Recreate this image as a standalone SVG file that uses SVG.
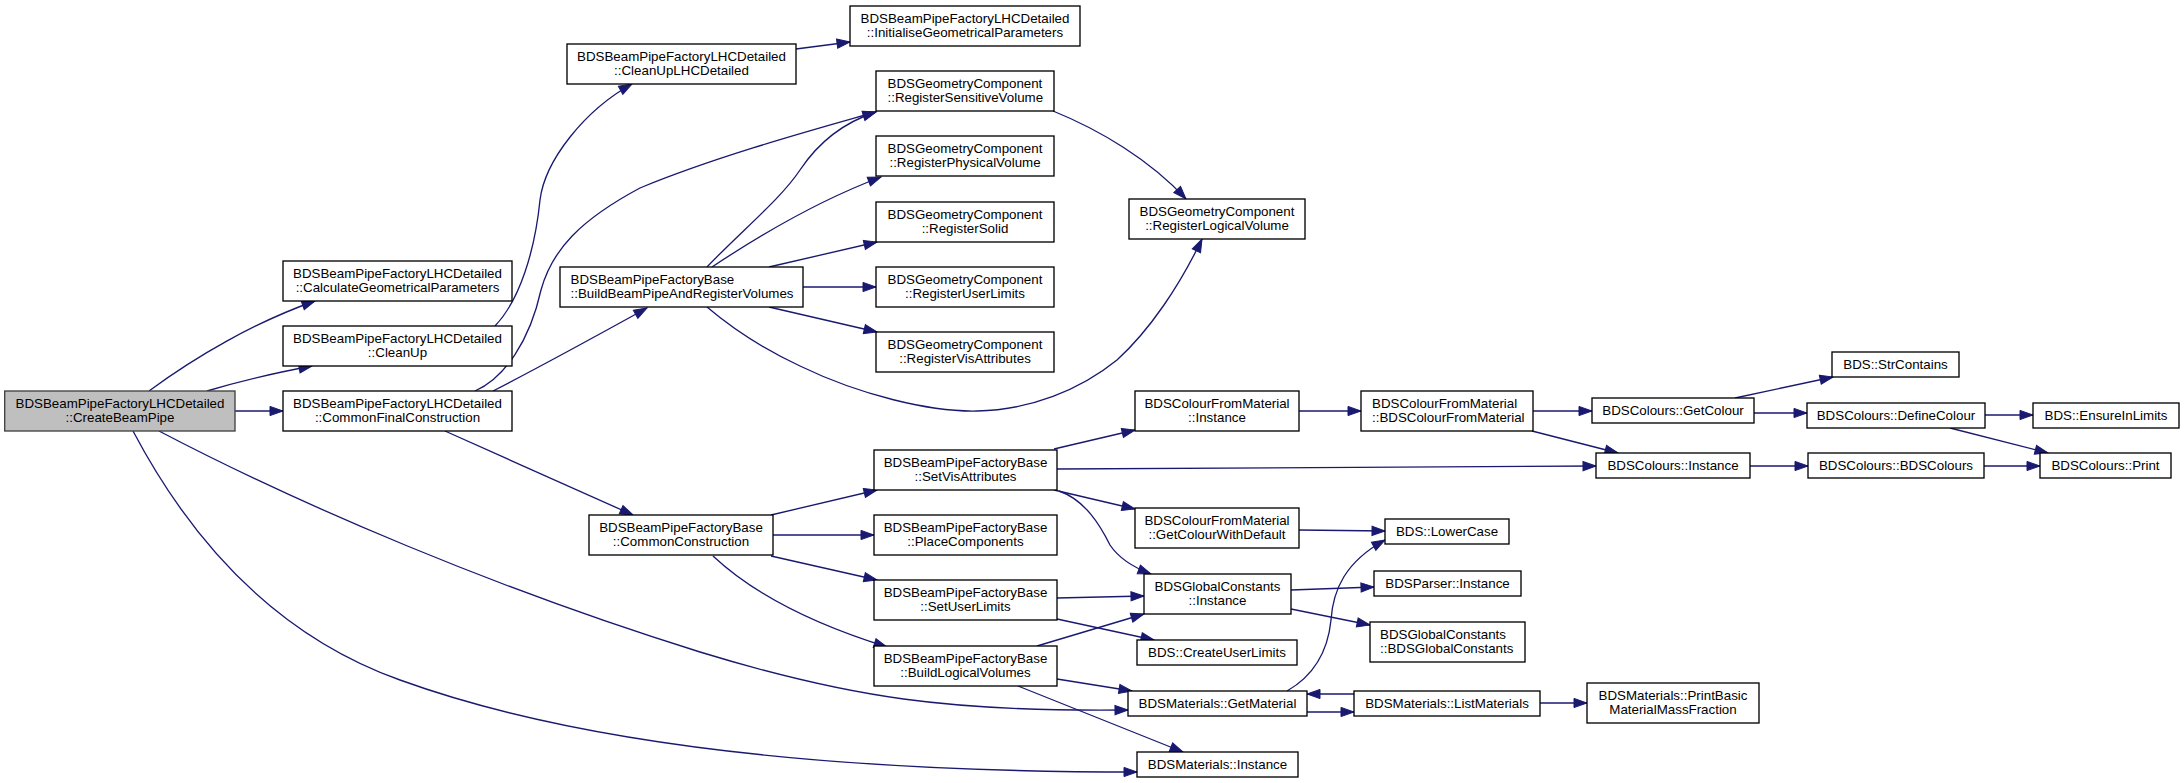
<svg xmlns="http://www.w3.org/2000/svg" width="2184" height="783" viewBox="0 0 2184 783">
<defs>
<style>
.n rect{fill:#ffffff;stroke:#000000;stroke-width:1.33}
.root rect{fill:#bfbfbf;stroke:#404040;stroke-width:1.33}
text{font-family:"Liberation Sans",Arial,Helvetica,sans-serif;font-size:13.33px;fill:#000000}
.c{text-anchor:middle}
#edges path{fill:none;stroke:#191970;stroke-width:1.33;marker-end:url(#a)}
</style>
<marker id="a" markerUnits="userSpaceOnUse" markerWidth="15" markerHeight="11" refX="13" refY="4.6" orient="auto" overflow="visible">
<path d="M0,0 L13,4.6 L0,9.2 z" fill="#191970" stroke="#191970" stroke-width="1"/>
</marker>
</defs>
<rect x="0" y="0" width="2184" height="783" fill="#ffffff"/>
<g id="edges">
<path d="M149,391 C195,357 255,322 315,301"/>
<path d="M207,391 C240,381 280,372 312,366"/>
<path d="M235,411 L283,411"/>
<path d="M159,431 C300,505 500,590 700,652 C850,698 950,712 1128,710"/>
<path d="M133,431 C180,520 260,630 400,680 C560,738 800,772 1137,772"/>
<path d="M495,326 C520,300 535,250 540,200 C545,160 585,110 632,84"/>
<path d="M796,49 L850,42"/>
<path d="M475,391 C505,378 530,340 541,290 C552,250 580,220 640,188 C720,155 820,128 876,112"/>
<path d="M493,391 C530,372 580,345 647,308"/>
<path d="M445,431 L633,515"/>
<path d="M707,267 C740,232 780,200 800,170 C820,140 845,122 876,112"/>
<path d="M712,267 C760,235 820,200 881,177"/>
<path d="M769,267 L877,242"/>
<path d="M803,287 L876,287"/>
<path d="M769,307 L877,332"/>
<path d="M707,307 C740,335 770,352 800,366 C860,395 930,412 977,411 C1030,410 1080,390 1117,360 C1150,330 1180,285 1202,239"/>
<path d="M1053,111 C1100,130 1150,160 1186,199"/>
<path d="M771,515 L877,490"/>
<path d="M773,535 L874,535"/>
<path d="M771,556 L877,580"/>
<path d="M713,556 C745,586 800,620 887,647"/>
<path d="M1054,449 L1135,430"/>
<path d="M1057,469 L1596,466"/>
<path d="M1054,490 L1135,509"/>
<path d="M1059,491 C1085,500 1100,525 1110,545 C1120,560 1135,568 1151,574"/>
<path d="M1057,598 L1144,596"/>
<path d="M1057,619 L1154,640"/>
<path d="M1037,646 L1144,614"/>
<path d="M1057,679 L1132,691"/>
<path d="M1018,686 L1183,752"/>
<path d="M1299,411 L1361,411"/>
<path d="M1533,411 L1592,411"/>
<path d="M1532,431 L1618,453"/>
<path d="M1299,530 L1385,531"/>
<path d="M1291,590 L1374,587"/>
<path d="M1291,609 L1370,625"/>
<path d="M1287,691 C1315,675 1328,650 1331,620 C1333,590 1345,562 1385,540"/>
<path d="M1307,712 L1354,712"/>
<path d="M1354,694 L1307,694"/>
<path d="M1540,703 L1587,703"/>
<path d="M1735,398 L1833,377"/>
<path d="M1754,413 L1807,413"/>
<path d="M1985,415 L2033,415"/>
<path d="M1950,428 L2048,453"/>
<path d="M1750,466 L1808,466"/>
<path d="M1984,466 L2040,466"/>
</g>
<g id="n0" class="root"><rect x="4.7" y="391" width="230.3" height="40"/><text class="c" x="120" y="407.5">BDSBeamPipeFactoryLHCDetailed</text><text class="c" x="120" y="422">::CreateBeamPipe</text></g>
<g id="n1" class="n"><rect x="283" y="261" width="229" height="40"/><text class="c" x="397.5" y="277.5">BDSBeamPipeFactoryLHCDetailed</text><text class="c" x="397.5" y="292">::CalculateGeometricalParameters</text></g>
<g id="n2" class="n"><rect x="283" y="326" width="229" height="40"/><text class="c" x="397.5" y="342.5">BDSBeamPipeFactoryLHCDetailed</text><text class="c" x="397.5" y="357">::CleanUp</text></g>
<g id="n3" class="n"><rect x="283" y="391" width="229" height="40"/><text class="c" x="397.5" y="407.5">BDSBeamPipeFactoryLHCDetailed</text><text class="c" x="397.5" y="422">::CommonFinalConstruction</text></g>
<g id="n4" class="n"><rect x="567" y="44" width="229" height="40"/><text class="c" x="681.5" y="60.5">BDSBeamPipeFactoryLHCDetailed</text><text class="c" x="681.5" y="75">::CleanUpLHCDetailed</text></g>
<g id="n5" class="n"><rect x="850" y="6" width="230" height="40"/><text class="c" x="965" y="22.5">BDSBeamPipeFactoryLHCDetailed</text><text class="c" x="965" y="37">::InitialiseGeometricalParameters</text></g>
<g id="n6" class="n"><rect x="560" y="267" width="243" height="40"/><text x="570.5" y="283.5">BDSBeamPipeFactoryBase</text><text x="570.5" y="298">::BuildBeamPipeAndRegisterVolumes</text></g>
<g id="n7" class="n"><rect x="589" y="515" width="184" height="40"/><text class="c" x="681" y="531.5">BDSBeamPipeFactoryBase</text><text class="c" x="681" y="546">::CommonConstruction</text></g>
<g id="n8" class="n"><rect x="876" y="71" width="178" height="40"/><text x="887.5" y="87.5">BDSGeometryComponent</text><text x="887.5" y="102">::RegisterSensitiveVolume</text></g>
<g id="n9" class="n"><rect x="876" y="136" width="178" height="40"/><text class="c" x="965" y="152.5">BDSGeometryComponent</text><text class="c" x="965" y="167">::RegisterPhysicalVolume</text></g>
<g id="n10" class="n"><rect x="876" y="202" width="178" height="40"/><text class="c" x="965" y="218.5">BDSGeometryComponent</text><text class="c" x="965" y="233">::RegisterSolid</text></g>
<g id="n11" class="n"><rect x="876" y="267" width="178" height="40"/><text class="c" x="965" y="283.5">BDSGeometryComponent</text><text class="c" x="965" y="298">::RegisterUserLimits</text></g>
<g id="n12" class="n"><rect x="876" y="332" width="178" height="40"/><text class="c" x="965" y="348.5">BDSGeometryComponent</text><text class="c" x="965" y="363">::RegisterVisAttributes</text></g>
<g id="n13" class="n"><rect x="1129" y="199" width="176" height="40"/><text class="c" x="1217" y="215.5">BDSGeometryComponent</text><text class="c" x="1217" y="230">::RegisterLogicalVolume</text></g>
<g id="n14" class="n"><rect x="874" y="450" width="183" height="40"/><text class="c" x="965.5" y="466.5">BDSBeamPipeFactoryBase</text><text class="c" x="965.5" y="481">::SetVisAttributes</text></g>
<g id="n15" class="n"><rect x="874" y="515" width="183" height="40"/><text class="c" x="965.5" y="531.5">BDSBeamPipeFactoryBase</text><text class="c" x="965.5" y="546">::PlaceComponents</text></g>
<g id="n16" class="n"><rect x="874" y="580" width="183" height="40"/><text class="c" x="965.5" y="596.5">BDSBeamPipeFactoryBase</text><text class="c" x="965.5" y="611">::SetUserLimits</text></g>
<g id="n17" class="n"><rect x="874" y="646" width="183" height="40"/><text class="c" x="965.5" y="662.5">BDSBeamPipeFactoryBase</text><text class="c" x="965.5" y="677">::BuildLogicalVolumes</text></g>
<g id="n18" class="n"><rect x="1135" y="391" width="164" height="40"/><text class="c" x="1217" y="407.5">BDSColourFromMaterial</text><text class="c" x="1217" y="422">::Instance</text></g>
<g id="n19" class="n"><rect x="1135" y="508" width="164" height="40"/><text class="c" x="1217" y="524.5">BDSColourFromMaterial</text><text class="c" x="1217" y="539">::GetColourWithDefault</text></g>
<g id="n20" class="n"><rect x="1144" y="574" width="147" height="40"/><text class="c" x="1217.5" y="590.5">BDSGlobalConstants</text><text class="c" x="1217.5" y="605">::Instance</text></g>
<g id="n21" class="n"><rect x="1137" y="640" width="160" height="25"/><text class="c" x="1217" y="657">BDS::CreateUserLimits</text></g>
<g id="n22" class="n"><rect x="1128" y="691" width="179" height="25"/><text class="c" x="1217.5" y="708">BDSMaterials::GetMaterial</text></g>
<g id="n23" class="n"><rect x="1137" y="752" width="161" height="25"/><text class="c" x="1217.5" y="769">BDSMaterials::Instance</text></g>
<g id="n24" class="n"><rect x="1361" y="391" width="172" height="40"/><text x="1372" y="407.5">BDSColourFromMaterial</text><text x="1372" y="422">::BDSColourFromMaterial</text></g>
<g id="n25" class="n"><rect x="1385" y="519" width="124" height="25"/><text class="c" x="1447" y="536">BDS::LowerCase</text></g>
<g id="n26" class="n"><rect x="1374" y="571" width="147" height="25"/><text class="c" x="1447.5" y="588">BDSParser::Instance</text></g>
<g id="n27" class="n"><rect x="1370" y="622" width="155" height="40"/><text x="1380" y="638.5">BDSGlobalConstants</text><text x="1380" y="653">::BDSGlobalConstants</text></g>
<g id="n28" class="n"><rect x="1354" y="691" width="186" height="25"/><text class="c" x="1447" y="708">BDSMaterials::ListMaterials</text></g>
<g id="n29" class="n"><rect x="1592" y="398" width="162" height="25"/><text class="c" x="1673" y="415">BDSColours::GetColour</text></g>
<g id="n30" class="n"><rect x="1596" y="453" width="154" height="25"/><text class="c" x="1673" y="470">BDSColours::Instance</text></g>
<g id="n31" class="n"><rect x="1587" y="683" width="172" height="40"/><text class="c" x="1673" y="699.5">BDSMaterials::PrintBasic</text><text class="c" x="1673" y="714">MaterialMassFraction</text></g>
<g id="n32" class="n"><rect x="1832" y="352" width="127" height="25"/><text class="c" x="1895.5" y="369">BDS::StrContains</text></g>
<g id="n33" class="n"><rect x="1807" y="403" width="178" height="25"/><text class="c" x="1896" y="420">BDSColours::DefineColour</text></g>
<g id="n34" class="n"><rect x="1808" y="453" width="176" height="25"/><text class="c" x="1896" y="470">BDSColours::BDSColours</text></g>
<g id="n35" class="n"><rect x="2033" y="403" width="146" height="25"/><text class="c" x="2106" y="420">BDS::EnsureInLimits</text></g>
<g id="n36" class="n"><rect x="2040" y="453" width="131" height="25"/><text class="c" x="2105.5" y="470">BDSColours::Print</text></g>
</svg>
